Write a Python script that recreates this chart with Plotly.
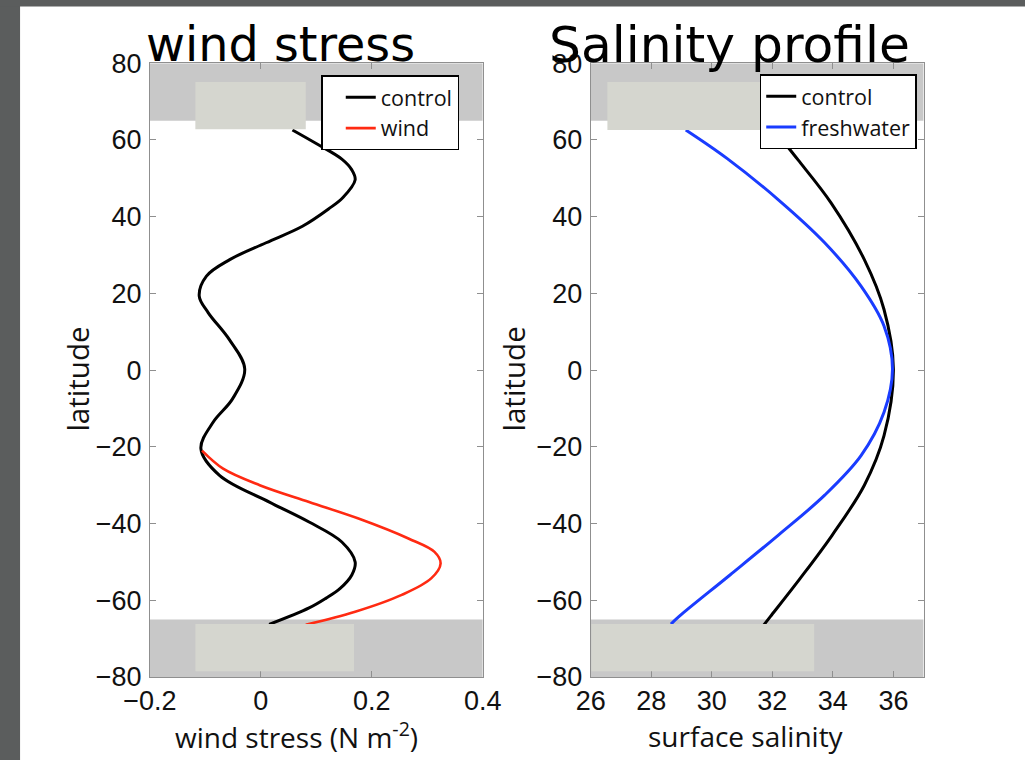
import plotly.graph_objects as go

# ---------------- data ----------------
lat_wind_control = [62.6, 58.8, 55.0, 52.2, 49.6, 45.0, 42.0, 37.5, 33.2, 28.8, 24.5, 19.3, 15.0, 8.0, 0.3,
                    -7.5, -13.6, -20.5, -27.5, -34.4, -39.6, -44.8, -50.0, -53.4, -56.9, -59.5, -62.0, -66.3]
tau_control = [0.057, 0.103, 0.146, 0.164, 0.170, 0.148, 0.122, 0.075, 0.0095, -0.056, -0.098, -0.111, -0.095,
               -0.057, -0.029,
               -0.051, -0.086, -0.108, -0.074, 0.0155, 0.087, 0.146, 0.170, 0.164, 0.143, 0.117, 0.087, 0.015]

lat_wind = [-21.0, -25.7, -30.0, -34.4, -38.7, -43.9, -47.4, -50.4, -54.3, -58.6, -63.0, -66.4]
tau_wind = [-0.106, -0.068, -0.002, 0.087, 0.176, 0.266, 0.313, 0.324, 0.307, 0.254, 0.170, 0.081]

lat_sal_control = [63.0, 58.3, 54.8, 43.6, 28.8, 15.8, 0.3, -17.1, -30.0, -43.0, -54.3, -64.2, -66.4]
sal_control = [32.05, 32.5, 32.85, 33.94, 35.04, 35.69, 36.0, 35.69, 35.04, 33.98, 32.92, 31.94, 31.72]

lat_sal_fresh = [62.6, 55.2, 44.4, 33.2, 21.9, 11.5, 0.3, -11.0, -22.3, -32.6, -43.0, -53.4, -64.2, -66.2]
sal_fresh = [29.14, 30.5, 32.2, 33.73, 34.93, 35.69, 35.97, 35.69, 34.93, 33.73, 32.2, 30.6, 28.92, 28.65]

lat_ticks = [-80, -60, -40, -20, 0, 20, 40, 60, 80]
tau_ticks = [-0.2, 0, 0.2, 0.4]
sal_ticks = [26, 28, 30, 32, 34, 36]

titles = ["wind stress", "Salinity profile"]
x_titles = ["wind stress (N m<sup>-2</sup>)", "surface salinity"]
y_title = "latitude"

# ---------------- geometry helpers (target pixels -> paper fractions) ----------------
W, H = 1025, 760
S, OX, OY = 0.964, 22.0, 14.6   # compensation for how the page is photographed


def px(x):
    return ((x - OX) / S) / W


def py(y):
    return 1 - ((y - OY) / S) / H


def fs(v):
    return round(v / S, 1)


fig = go.Figure()

fig.add_trace(go.Scatter(x=tau_control, y=lat_wind_control, mode="lines", name="control",
                         line=dict(color="black", width=3, shape="spline"),
                         xaxis="x", yaxis="y", legend="legend"))
fig.add_trace(go.Scatter(x=tau_wind, y=lat_wind, mode="lines", name="wind",
                         line=dict(color="#ff2a12", width=2.6, shape="spline"),
                         xaxis="x", yaxis="y", legend="legend"))
fig.add_trace(go.Scatter(x=sal_control, y=lat_sal_control, mode="lines", name="control",
                         line=dict(color="black", width=3, shape="spline"),
                         xaxis="x2", yaxis="y2", legend="legend2"))
fig.add_trace(go.Scatter(x=sal_fresh, y=lat_sal_fresh, mode="lines", name="freshwater",
                         line=dict(color="#1a3cff", width=3, shape="spline"),
                         xaxis="x2", yaxis="y2", legend="legend2"))

tickfont = dict(family="Liberation Sans, Arial, sans-serif", size=fs(26), color="#111")
titlefont = dict(family="Open Sans, Liberation Sans, sans-serif", size=fs(27), color="#111")
ytitlefont = dict(family="Open Sans, Liberation Sans, sans-serif", size=fs(28.5), color="#111")
legfont = dict(family="Open Sans, Liberation Sans, sans-serif", size=21.5, color="#111")
axis_common = dict(showline=True, linecolor="#8f8f8f", linewidth=1, mirror="ticks",
                   ticks="inside", ticklen=6, tickcolor="#8f8f8f", showgrid=False,
                   zeroline=False, tickfont=tickfont)

ydom = [py(679), py(63)]
fig.update_layout(
    width=W, height=H,
    margin=dict(l=0, r=0, t=0, b=0),
    paper_bgcolor="white", plot_bgcolor="white",
    xaxis=dict(domain=[px(146), px(482)], range=[-0.2, 0.4], tickvals=tau_ticks,
               ticklabelstandoff=0, anchor="y", **axis_common),
    yaxis=dict(domain=ydom, range=[-80, 80], tickvals=lat_ticks,
               ticklabelstandoff=2, anchor="x", **axis_common),
    xaxis2=dict(domain=[px(591), px(927)], range=[26, 37], tickvals=sal_ticks,
                ticklabelstandoff=0, anchor="y2", **axis_common),
    yaxis2=dict(domain=ydom, range=[-80, 80], tickvals=lat_ticks,
                ticklabelstandoff=2, anchor="x2", **axis_common),
    legend=dict(x=px(319), xanchor="left", y=py(75), yanchor="top",
                bgcolor="white", bordercolor="black", borderwidth=1.5,
                font=legfont, itemwidth=30, indentation=18, tracegroupgap=0),
    legend2=dict(x=px(920), xanchor="right", y=py(74), yanchor="top",
                 bgcolor="white", bordercolor="black", borderwidth=1.5,
                 font=legfont, itemwidth=30, tracegroupgap=0),
    showlegend=True,
)

shapes = []
# dark frame strips (left and top of the original slide)
shapes.append(dict(type="rect", xref="paper", yref="paper", x0=-0.2, x1=px(15), y0=-0.2, y1=1.2,
                   fillcolor="#5b5d5d", line_width=0, layer="below"))
shapes.append(dict(type="rect", xref="paper", yref="paper", x0=-0.2, x1=1.2, y0=py(6), y1=1.2,
                   fillcolor="#5b5d5d", line_width=0, layer="below"))
# gray polar bands
for xr, yr, x0, x1 in [("x", "y", -0.2, 0.4), ("x2", "y2", 26, 37)]:
    shapes.append(dict(type="rect", xref=xr, yref=yr, x0=x0, x1=x1, y0=65, y1=80,
                       fillcolor="#c8c8c8", line_width=0, layer="below"))
    shapes.append(dict(type="rect", xref=xr, yref=yr, x0=x0, x1=x1, y0=-80, y1=-65,
                       fillcolor="#c8c8c8", line_width=0, layer="below"))
# beige label patches
for xr, yr, x0, x1, y0, y1 in [("x", "y", -0.118, 0.081, 62.8, 75.1),
                               ("x", "y", -0.118, 0.168, -78.5, -66.2),
                               ("x2", "y2", 26.55, 31.81, 62.6, 75.1),
                               ("x2", "y2", 26.02, 33.38, -78.5, -66.2)]:
    shapes.append(dict(type="rect", xref=xr, yref=yr, x0=x0, x1=x1, y0=y0, y1=y1,
                       fillcolor="#d5d6cf", line_width=0, layer="above"))
fig.update_layout(shapes=shapes)

# handwritten-style panel titles
fig.add_annotation(text=titles[0], xref="paper", yref="paper", x=px(140), y=py(44),
                   xanchor="left", yanchor="middle", showarrow=False,
                   font=dict(family="DejaVu Sans", size=fs(46), color="black"))
fig.add_annotation(text=titles[1], xref="paper", yref="paper", x=px(547), y=py(44),
                   xanchor="left", yanchor="middle", showarrow=False,
                   font=dict(family="DejaVu Sans", size=fs(48.5), color="black"))

# axis titles
fig.add_annotation(text=x_titles[0], xref="paper", yref="paper", x=px(294), y=py(738),
                   xanchor="center", yanchor="middle", showarrow=False, font=titlefont)
fig.add_annotation(text=x_titles[1], xref="paper", yref="paper", x=px(748), y=py(738),
                   xanchor="center", yanchor="middle", showarrow=False, font=titlefont)
for xc in (73, 513):
    fig.add_annotation(text=y_title, xref="paper", yref="paper", x=px(xc), y=py(380),
                       xanchor="center", yanchor="middle", textangle=-90, showarrow=False,
                       font=ytitlefont)

fig.write_html("out.html")
